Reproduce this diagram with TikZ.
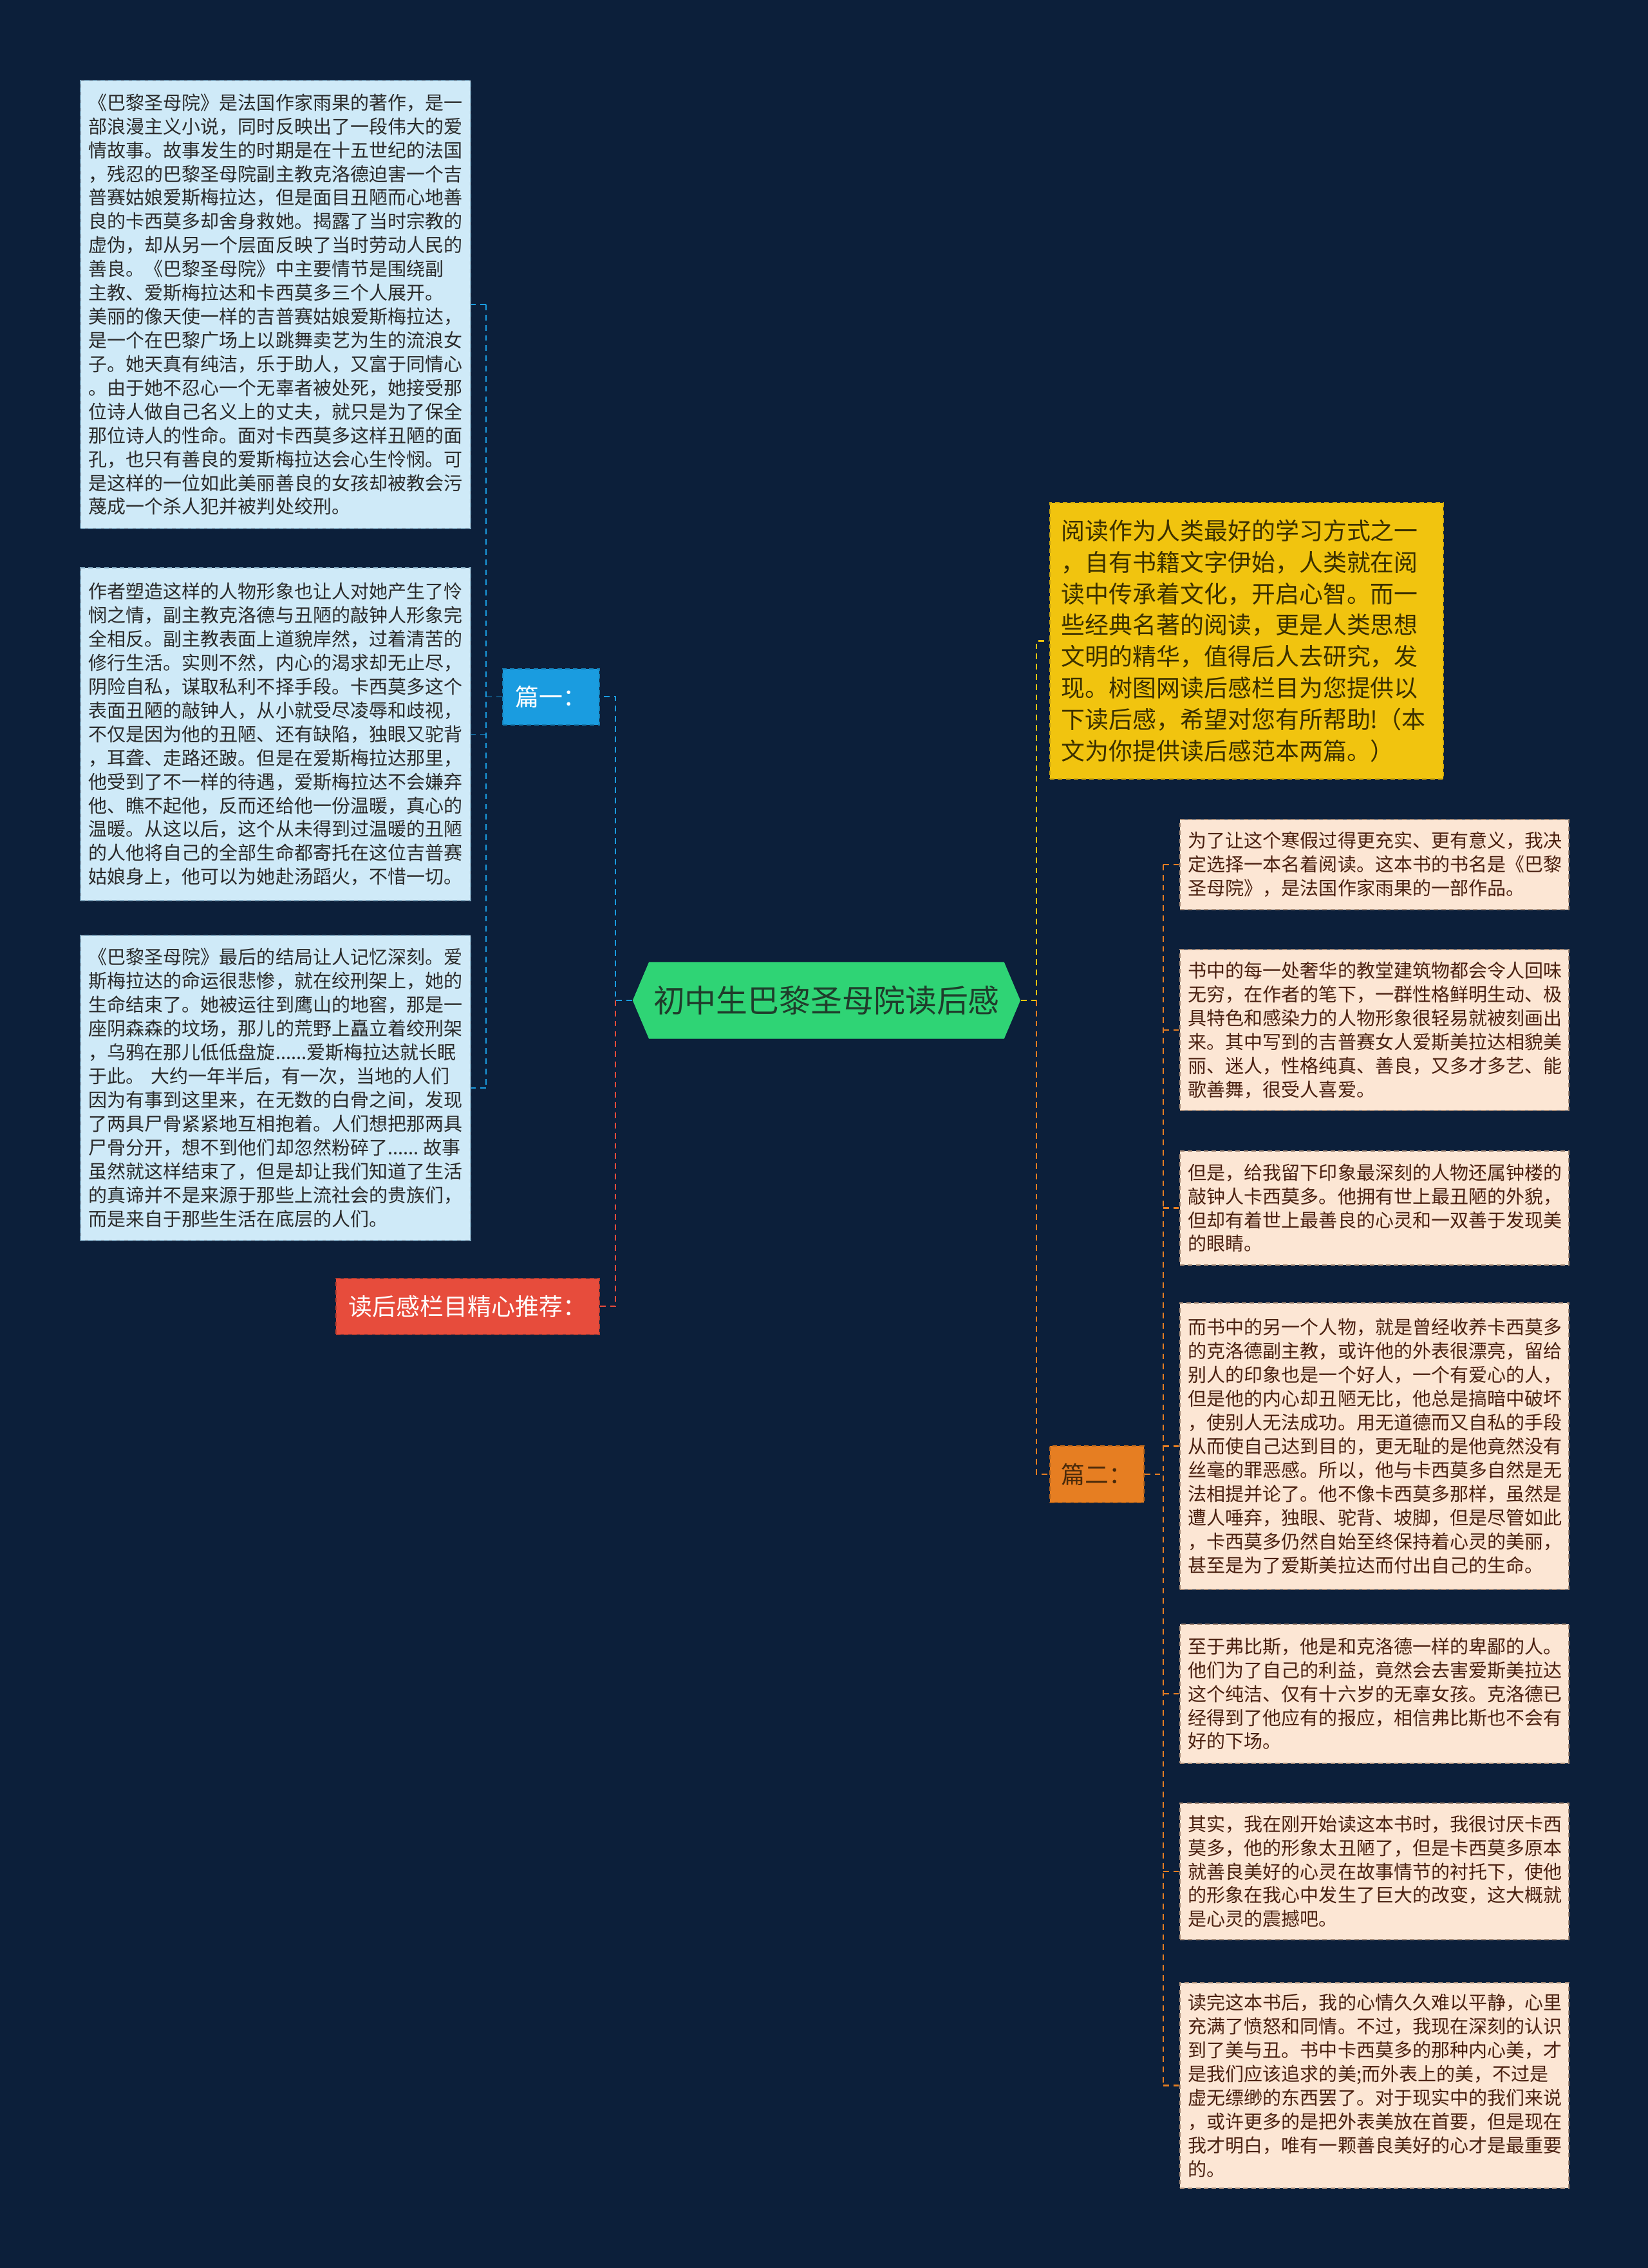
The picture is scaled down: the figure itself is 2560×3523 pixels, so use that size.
\documentclass[tikz,border=0pt]{standalone}
\usepackage{fontspec}
\setmainfont{Noto Sans CJK SC}
\usepackage{tikz}
\usetikzlibrary{positioning,shapes.symbols}
\definecolor{bgNavy}{HTML}{0C1F3A}
\definecolor{lbFill}{HTML}{CFEAF8}
\definecolor{lbLine}{HTML}{7FA6BE}
\definecolor{lbInk}{HTML}{2A2A2A}
\definecolor{rbFill}{HTML}{FCE6D4}
\definecolor{rbLine}{HTML}{A88C78}
\definecolor{rbInk}{HTML}{4A2010}
\definecolor{nBlue}{HTML}{1A9CE0}
\definecolor{nRed}{HTML}{E74C3C}
\definecolor{nGreen}{HTML}{2FD475}
\definecolor{nGreenInk}{HTML}{1F3D2B}
\definecolor{nYellow}{HTML}{F1C40F}
\definecolor{nYellowInk}{HTML}{3B3000}
\definecolor{nOrange}{HTML}{E67E22}
\definecolor{nOrangeInk}{HTML}{4A2A0A}
\tikzset{
  card/.style={draw, dash pattern=on 2pt off 1.5pt, line width=0.5pt, anchor=north west, align=left,
    inner xsep=0.13cm, inner ysep=0pt, font=\fontsize{8.25pt}{10.5pt}\selectfont},
  bluecard/.style={card, draw=lbLine, fill=lbFill, text=lbInk, text width=5.8cm, minimum width=6.06cm},
  peachcard/.style={card, draw=rbLine, fill=rbFill, text=rbInk, text width=5.78cm, minimum width=6.04cm},
  tag/.style={draw, dash pattern=on 2pt off 1.5pt, line width=0.5pt, anchor=north west, inner sep=0pt,
    minimum height=0.87cm, font=\fontsize{10.5pt}{12pt}\selectfont},
  link/.style={dash pattern=on 2.5pt off 2pt, line width=0.6pt},
}
\begin{document}
\begin{tikzpicture}[x=0.01cm, y=-0.01cm]
  \fill[bgNavy] (0,0) rectangle (2560,3523);
  \useasboundingbox (0,0) rectangle (2560,3523);
  % centre
  \node[signal, signal to=west and east, signal pointer angle=134, fill=nGreen, text=nGreenInk,
    minimum width=5.96cm, minimum height=1.19cm, inner xsep=2pt, anchor=west,
    font=\fontsize{13.9pt}{16pt}\selectfont] (root) at (982,1554) {初中生巴黎圣母院读后感};
  % left side
  \node[tag, fill=nBlue, draw=nBlue!80!black, text=white, minimum width=1.5cm] (p1) at (780,1038) {篇一：};
  \node[tag, fill=nRed, draw=nRed!80!black, text=white, minimum width=4.09cm] (rec) at (521,1985) {读后感栏目精心推荐：};
  \node[bluecard, minimum height=6.96cm] (l1) at (124,124) {《巴黎圣母院》是法国作家雨果的著作，是一\\部浪漫主义小说，同时反映出了一段伟大的爱\\情故事。故事发生的时期是在十五世纪的法国\\，残忍的巴黎圣母院副主教克洛德迫害一个吉\\普赛姑娘爱斯梅拉达，但是面目丑陋而心地善\\良的卡西莫多却舍身救她。揭露了当时宗教的\\虚伪，却从另一个层面反映了当时劳动人民的\\善良。《巴黎圣母院》中主要情节是围绕副\\主教、爱斯梅拉达和卡西莫多三个人展开。\\美丽的像天使一样的吉普赛姑娘爱斯梅拉达，\\是一个在巴黎广场上以跳舞卖艺为生的流浪女\\子。她天真有纯洁，乐于助人，又富于同情心\\。由于她不忍心一个无辜者被处死，她接受那\\位诗人做自己名义上的丈夫，就只是为了保全\\那位诗人的性命。面对卡西莫多这样丑陋的面\\孔，也只有善良的爱斯梅拉达会心生怜悯。可\\是这样的一位如此美丽善良的女孩却被教会污\\蔑成一个杀人犯并被判处绞刑。};
  \node[bluecard, minimum height=5.17cm] (l2) at (124,881) {作者塑造这样的人物形象也让人对她产生了怜\\悯之情，副主教克洛德与丑陋的敲钟人形象完\\全相反。副主教表面上道貌岸然，过着清苦的\\修行生活。实则不然，内心的渴求却无止尽，\\阴险自私，谋取私利不择手段。卡西莫多这个\\表面丑陋的敲钟人，从小就受尽凌辱和歧视，\\不仅是因为他的丑陋、还有缺陷，独眼又驼背\\，耳聋、走路还跛。但是在爱斯梅拉达那里，\\他受到了不一样的待遇，爱斯梅拉达不会嫌弃\\他、瞧不起他，反而还给他一份温暖，真心的\\温暖。从这以后，这个从未得到过温暖的丑陋\\的人他将自己的全部生命都寄托在这位吉普赛\\姑娘身上，他可以为她赴汤蹈火，不惜一切。};
  \node[bluecard, minimum height=4.74cm] (l3) at (124,1452) {《巴黎圣母院》最后的结局让人记忆深刻。爱\\斯梅拉达的命运很悲惨，就在绞刑架上，她的\\生命结束了。她被运往到鹰山的地窖，那是一\\座阴森森的坟场，那儿的荒野上矗立着绞刑架\\，乌鸦在那儿低低盘旋......爱斯梅拉达就长眠\\于此。 大约一年半后，有一次，当地的人们\\因为有事到这里来，在无数的白骨之间，发现\\了两具尸骨紧紧地互相抱着。人们想把那两具\\尸骨分开，想不到他们却忽然粉碎了......\kern0.25em 故事\\虽然就这样结束了，但是却让我们知道了生活\\的真谛并不是来源于那些上流社会的贵族们，\\而是来自于那些生活在底层的人们。};
  % right side
  \node[anchor=north west, fill=nYellow, draw=nYellow!85!black, dash pattern=on 2pt off 1.5pt, line width=0.5pt,
    text=nYellowInk, align=left, text width=5.75cm, inner xsep=0.18cm, inner ysep=0pt,
    minimum width=6.11cm, minimum height=4.29cm, font=\fontsize{10.5pt}{13.9pt}\selectfont] (intro) at (1630,780)
    {阅读作为人类最好的学习方式之一\\，自有书籍文字伊始，人类就在阅\\读中传承着文化，开启心智。而一\\些经典名著的阅读，更是人类思想\\文明的精华，值得后人去研究，发\\现。树图网读后感栏目为您提供以\\下读后感，希望对您有所帮助!（本\\文为你提供读后感范本两篇。）};
  \node[tag, fill=nOrange, draw=nOrange!80!black, text=nOrangeInk, minimum width=1.46cm, minimum height=0.88cm] (p2) at (1630,2245) {篇二：};
  \node[peachcard, minimum height=1.40cm] (r1) at (1832,1272) {为了让这个寒假过得更充实、更有意义，我决\\定选择一本名着阅读。这本书的书名是《巴黎\\圣母院》，是法国作家雨果的一部作品。};
  \node[peachcard, minimum height=2.50cm] (r2) at (1832,1474) {书中的每一处奢华的教堂建筑物都会令人回味\\无穷，在作者的笔下，一群性格鲜明生动、极\\具特色和感染力的人物形象很轻易就被刻画出\\来。其中写到的吉普赛女人爱斯美拉达相貌美\\丽、迷人，性格纯真、善良，又多才多艺、能\\歌善舞，很受人喜爱。};
  \node[peachcard, minimum height=1.77cm] (r3) at (1832,1787) {但是，给我留下印象最深刻的人物还属钟楼的\\敲钟人卡西莫多。他拥有世上最丑陋的外貌，\\但却有着世上最善良的心灵和一双善于发现美\\的眼睛。};
  \node[peachcard, minimum height=4.45cm] (r4) at (1832,2023) {而书中的另一个人物，就是曾经收养卡西莫多\\的克洛德副主教，或许他的外表很漂亮，留给\\别人的印象也是一个好人，一个有爱心的人，\\但是他的内心却丑陋无比，他总是搞暗中破坏\\，使别人无法成功。用无道德而又自私的手段\\从而使自己达到目的，更无耻的是他竟然没有\\丝毫的罪恶感。所以，他与卡西莫多自然是无\\法相提并论了。他不像卡西莫多那样，虽然是\\遭人唾弃，独眼、驼背、坡脚，但是尽管如此\\，卡西莫多仍然自始至终保持着心灵的美丽，\\甚至是为了爱斯美拉达而付出自己的生命。};
  \node[peachcard, minimum height=2.16cm] (r5) at (1832,2522) {至于弗比斯，他是和克洛德一样的卑鄙的人。\\他们为了自己的利益，竟然会去害爱斯美拉达\\这个纯洁、仅有十六岁的无辜女孩。克洛德已\\经得到了他应有的报应，相信弗比斯也不会有\\好的下场。};
  \node[peachcard, minimum height=2.12cm] (r6) at (1832,2800) {其实，我在刚开始读这本书时，我很讨厌卡西\\莫多，他的形象太丑陋了，但是卡西莫多原本\\就善良美好的心灵在故事情节的衬托下，使他\\的形象在我心中发生了巨大的改变，这大概就\\是心灵的震撼吧。};
  \node[peachcard, minimum height=3.19cm] (r7) at (1832,3079) {读完这本书后，我的心情久久难以平静，心里\\充满了愤怒和同情。不过，我现在深刻的认识\\到了美与丑。书中卡西莫多的那种内心美，才\\是我们应该追求的美;而外表上的美，不过是\\虚无缥缈的东西罢了。对于现实中的我们来说\\，或许更多的是把外表美放在首要，但是现在\\我才明白，唯有一颗善良美好的心才是最重要\\的。};
  % connectors
  \coordinate[left=0.26cm of root.west] (ljoin);
  \coordinate[right=0.24cm of root.east] (rjoin);
  \coordinate[left=0.25cm of p1.west] (ltrunk);
  \coordinate[right=0.29cm of p2.east] (rtrunk);
  \draw[link, nBlue] (root.west) -- (ljoin) |- (p1.east);
  \draw[link, nRed] (ljoin) |- (rec.east);
  \draw[link, nYellow] (root.east) -- (rjoin) |- (intro.west);
  \draw[link, nOrange] (rjoin) |- (p2.west);
  \draw[link, nBlue, line width=0.5pt] (p1.west) -- (ltrunk);
  \draw[link, nBlue, line width=0.5pt] (ltrunk |- l1.east) -- (ltrunk |- l3.east);
  \foreach \b in {l1,l2,l3} {\draw[link, nBlue, line width=0.5pt] (ltrunk |- \b.east) -- (\b.east);}
  \draw[link, nOrange] (p2.east) -- (rtrunk);
  \draw[link, nOrange] (rtrunk |- r1.west) -- (rtrunk |- r7.west);
  \foreach \b in {r1,r2,r3,r4,r5,r6,r7} {\draw[link, nOrange] (rtrunk |- \b.west) -- (\b.west);}
\end{tikzpicture}
\end{document}
